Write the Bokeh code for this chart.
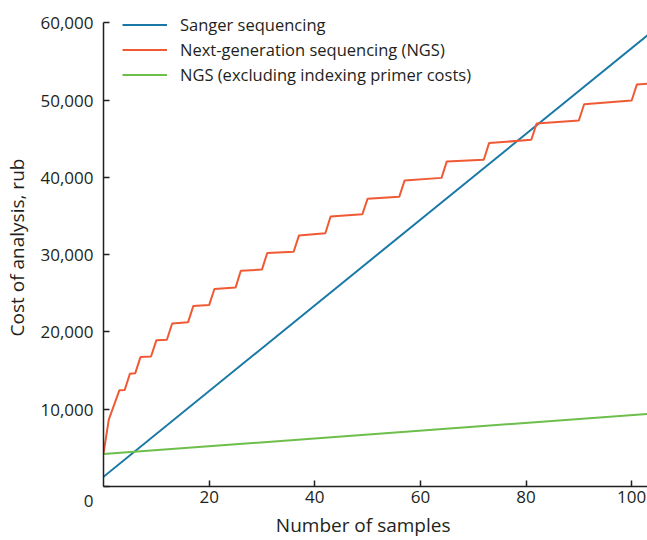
from bokeh.plotting import figure
from bokeh.models import (Range1d, FixedTicker, NumeralTickFormatter,
                          Legend, LegendItem)
from bokeh.embed import file_html
from bokeh.resources import INLINE

# ---- data ----
sanger_x = [0, 103]
sanger_y = [1250, 58400]

ngs_x = [0, 1, 3, 4, 5, 6, 7, 9, 10, 12, 13, 16, 17, 20, 21, 25, 26, 30, 31,
         36, 37, 42, 43, 49, 50, 56, 57, 64, 65, 72, 73, 81, 82, 90, 91, 100,
         101, 103]
ngs_y = [4250, 8650, 12450, 12480, 14600, 14650, 16750, 16820, 18920, 19000,
         21100, 21250, 23350, 23480, 25560, 25750, 27920, 28080, 30220, 30380,
         32480, 32780, 34950, 35230, 37250, 37500, 39600, 39950, 42080, 42300,
         44450, 44880, 46980, 47380, 49480, 49970, 52050, 52150]

ngs_excl_x = [0, 103]
ngs_excl_y = [4200, 9390]

x_ticks = [20, 40, 60, 80, 100]
y_ticks = [0, 10000, 20000, 30000, 40000, 50000, 60000]

series_names = ["Sanger sequencing",
                "Next-generation sequencing (NGS)",
                "NGS (excluding indexing primer costs)"]
x_title = "Number of samples"
y_title = "Cost of analysis, rub"

# ---- styling ----
FONT = "Open Sans"
TXT = "#231f20"
C_BLUE = "#1a78a6"
C_RED = "#ef5a35"
C_GREEN = "#6dbe4b"
NBSP = "\u00a0"  # non-breaking space, used to nudge the centred title

p = figure(width=647, height=540, output_backend="svg", toolbar_location=None,
           x_range=Range1d(0, 103), y_range=Range1d(0, 61875),
           min_border_left=103, min_border_right=0, min_border_top=8,
           min_border_bottom=54)
p.outline_line_color = None
p.xgrid.visible = False
p.ygrid.visible = False
p.background_fill_color = "white"

r1 = p.line(sanger_x, sanger_y, line_color=C_BLUE, line_width=2)
r2 = p.line(ngs_x, ngs_y, line_color=C_RED, line_width=2)
r3 = p.line(ngs_excl_x, ngs_excl_y, line_color=C_GREEN, line_width=2)

for ax in (p.xaxis[0], p.yaxis[0]):
    ax.axis_line_color = TXT
    ax.axis_line_width = 1.5
    ax.major_tick_line_color = TXT
    ax.major_tick_line_width = 1.5
    ax.minor_tick_line_color = None
    ax.major_tick_in = 6
    ax.major_tick_out = 0
    ax.major_label_text_font = FONT
    ax.major_label_text_font_size = "17px"
    ax.major_label_text_color = TXT
    ax.axis_label_text_font = FONT
    ax.axis_label_text_font_size = "19px"
    ax.axis_label_text_font_style = "normal"
    ax.axis_label_text_color = TXT

p.xaxis[0].ticker = FixedTicker(ticks=x_ticks)
p.xaxis[0].major_label_standoff = 4
p.xaxis[0].axis_label = x_title + NBSP * 5
p.xaxis[0].axis_label_standoff = 6

p.yaxis[0].ticker = FixedTicker(ticks=y_ticks)
p.yaxis[0].formatter = NumeralTickFormatter(format="0,0")
# the corner "0" sits below-left of the origin in the reference
p.yaxis[0].major_label_overrides = {0: "\n0"}
p.yaxis[0].bounds = (0, 60000)
p.yaxis[0].major_label_standoff = 10
p.yaxis[0].axis_label = y_title
p.yaxis[0].axis_label_standoff = 7

legend = Legend(items=[LegendItem(label=series_names[0], renderers=[r1]),
                       LegendItem(label=series_names[1], renderers=[r2]),
                       LegendItem(label=series_names[2], renderers=[r3])],
                location=(19, 399), margin=0, padding=0, spacing=0,
                glyph_width=45, glyph_height=25, label_height=25,
                label_standoff=13, border_line_color=None,
                background_fill_alpha=0, label_text_font=FONT,
                label_text_font_size="16.5px", label_text_color=TXT)
p.add_layout(legend)

open("out.html", "w").write(file_html(p, INLINE))
